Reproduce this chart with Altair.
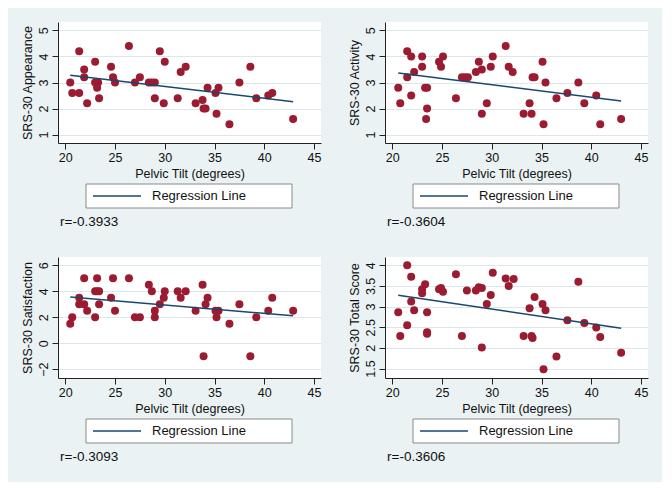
import altair as alt
import pandas as pd

# ---- data ----
tilt_app = [20.5,20.7,21.4,21.4,21.9,21.9,22.2,23.0,23.0,23.2,23.3,23.4,24.6,24.8,25.0,26.4,27.0,27.5,28.4,28.7,29.0,29.0,29.5,29.9,30.0,31.3,31.6,32.1,33.1,33.8,33.9,34.1,34.3,35.1,35.2,35.4,36.5,37.5,38.6,39.2,40.4,40.8,42.9]
appearance = [3.0,2.6,2.6,4.2,3.5,3.2,2.2,3.8,3.0,2.8,3.0,2.4,3.6,3.2,3.0,4.4,3.0,3.2,3.0,3.0,3.0,2.4,4.2,2.2,3.8,2.4,3.4,3.6,2.2,2.33,2.0,2.0,2.8,2.6,1.8,2.8,1.4,3.0,3.6,2.4,2.5,2.6,1.6]

tilt_act = [20.6,20.8,21.5,21.5,21.9,21.9,22.2,23.0,23.0,23.3,23.5,23.5,23.4,24.7,24.9,25.1,26.4,27.0,27.3,27.6,28.4,28.7,29.0,29.0,29.5,29.9,30.1,31.4,31.7,32.1,33.2,33.8,34.0,34.1,34.3,35.1,35.2,35.4,36.5,37.6,38.7,39.3,40.5,40.9,43.0]
activity = [2.8,2.2,4.2,3.2,4.0,2.5,3.4,4.0,3.6,2.8,2.8,2.0,1.6,3.8,3.6,4.0,2.4,3.2,3.2,3.2,3.4,3.8,3.5,1.8,2.2,3.6,4.0,4.4,3.6,3.4,1.8,2.2,1.8,3.2,3.2,3.8,1.4,3.0,2.4,2.6,3.0,2.2,2.5,1.4,1.6]

tilt_sat = [20.5,20.7,21.4,21.4,21.9,21.9,22.2,23.0,23.0,23.2,23.2,23.4,23.4,24.6,24.8,25.0,26.4,27.0,27.5,28.4,28.7,29.0,29.0,29.5,29.9,30.0,31.3,31.6,32.1,33.1,33.8,33.9,34.1,34.3,35.1,35.2,35.4,36.5,37.5,38.6,39.2,40.4,40.8,42.9]
satisfaction = [1.5,2.0,3.5,3.0,5.0,3.0,2.5,4.0,2.0,5.0,4.0,4.0,3.0,3.5,5.0,2.5,5.0,2.0,2.0,4.5,4.0,2.5,2.0,3.0,3.5,4.0,4.0,3.5,4.0,2.5,4.5,-1.0,3.0,3.5,2.5,2.0,2.5,1.5,3.0,-1.0,2.0,2.5,3.5,2.5]

tilt_tot = [20.6,20.8,21.5,21.5,21.9,21.9,22.2,23.0,23.0,23.3,23.5,23.5,23.5,24.7,24.9,25.1,26.4,27.0,27.5,28.4,28.7,29.0,29.0,29.5,29.9,30.1,31.4,31.7,32.2,33.2,33.8,34.0,34.1,34.3,35.1,35.2,35.4,36.5,37.6,38.7,39.3,40.5,40.9,43.0]
total = [2.86,2.29,4.0,2.55,3.72,3.12,2.91,3.42,3.32,3.54,2.86,2.38,2.34,3.42,3.45,3.36,3.78,2.29,3.39,3.39,3.47,3.45,2.01,3.06,3.28,3.82,3.68,3.50,3.67,2.29,2.96,2.29,2.24,3.23,3.06,1.48,2.91,1.79,2.67,3.60,2.60,2.49,2.26,1.88]

x_ticks = [20, 25, 30, 35, 40, 45]
y_titles = ["SRS-30 Appearance", "SRS-30 Activity", "SRS-30 Satisfaction", "SRS-30 Total Score"]
y_ticks = [[1, 2, 3, 4, 5], [1, 2, 3, 4, 5], [-2, 0, 2, 4, 6], [1.5, 2, 2.5, 3, 3.5, 4]]
y_domains = [[0.68, 5.32], [0.68, 5.32], [-2.68, 6.64], [1.27, 4.2]]
r_labels = ["r=-0.3933", "r=-0.3604", "r=-0.3093", "r=-0.3606"]
legend_label = ["Regression Line"]

RED = "#9b1c31"
NAVY = "#1a476f"
FONT = "Liberation Sans"
W, H = 263, 121


def panel(xs, ys, ytitle, yt, ydom, rlab):
    df = pd.DataFrame({"tilt": xs, "score": ys})
    xenc = alt.X("tilt:Q",
                 scale=alt.Scale(domain=[19.27, 45.7], nice=False, zero=False),
                 axis=alt.Axis(values=x_ticks, title="Pelvic Tilt (degrees)", grid=False,
                               labelPadding=2, titlePadding=4, format="~g"))
    yenc = alt.Y("score:Q",
                 scale=alt.Scale(domain=ydom, nice=False, zero=False),
                 axis=alt.Axis(values=yt, title=ytitle, grid=True, labelAngle=-90,
                               labelAlign="center", labelBaseline="bottom",
                               labelOverlap=False, format="~g",
                               labelPadding=2, titlePadding=3))
    pts = alt.Chart(df).mark_circle(size=64, color=RED, opacity=1).encode(x=xenc, y=yenc)
    reg = alt.Chart(df).transform_regression("tilt", "score").mark_line(
        color=NAVY, strokeWidth=1.5).encode(x=xenc, y=yenc)
    ldf = pd.DataFrame({"label": legend_label})
    box = alt.Chart(ldf).mark_rect(fill="white", stroke="#8a8a8a", strokeWidth=1).encode(
        x=alt.value(28), x2=alt.value(234), y=alt.value(162), y2=alt.value(186))
    sample = alt.Chart(ldf).mark_rule(color=NAVY, strokeWidth=1.5).encode(
        x=alt.value(35), x2=alt.value(83), y=alt.value(174))
    ltext = alt.Chart(ldf).mark_text(align="left", baseline="middle", font=FONT,
                                     fontSize=13, color="#111").encode(
        text="label:N", x=alt.value(94), y=alt.value(174))
    rdf = pd.DataFrame({"r": [rlab]})
    rtext = alt.Chart(rdf).mark_text(align="left", baseline="middle", font=FONT,
                                     fontSize=13.5, color="#111").encode(
        text="r:N", x=alt.value(2), y=alt.value(200))
    return alt.layer(pts, reg, box, sample, ltext, rtext).properties(width=W, height=H)


p = [panel(tilt_app, appearance, y_titles[0], y_ticks[0], y_domains[0], r_labels[0]),
     panel(tilt_act, activity, y_titles[1], y_ticks[1], y_domains[1], r_labels[1]),
     panel(tilt_sat, satisfaction, y_titles[2], y_ticks[2], y_domains[2], r_labels[2]),
     panel(tilt_tot, total, y_titles[3], y_ticks[3], y_domains[3], r_labels[3])]

chart = alt.vconcat(
    alt.hconcat(p[0], p[1], spacing=27),
    alt.hconcat(p[2], p[3], spacing=27),
    spacing=28,
).properties(
    background="#eaf2f3",
    padding={"left": 13, "top": 14, "right": 14, "bottom": 18},
).configure_view(
    fill="white", stroke=None
).configure_axis(
    labelFont=FONT, titleFont=FONT, labelFontSize=12.5, titleFontSize=12.5,
    labelColor="#111", titleColor="#111", titleFontWeight="normal",
    domainColor="#222", tickColor="#222", tickSize=6, domainWidth=1, tickWidth=1,
    gridColor="#dce7ea", gridWidth=1
)

chart.save("out.html", embed_options={"renderer": "svg", "actions": False})
